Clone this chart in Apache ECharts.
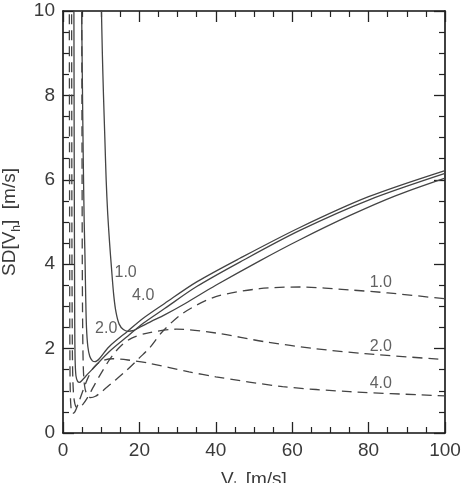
<!DOCTYPE html>
<html lang="en">
<head>
    <meta charset="UTF-8">
    <title>SD of Vh</title>
    <style>
        * {
            margin: 0;
            padding: 0;
        }

        html, body {
            width: 100%;
            height: 100%;
            background: #fff;
        }

        #chart {
            width: 461px;
            height: 483px;
        }
    </style>
    <script src="https://cdn.jsdelivr.net/npm/echarts@6/dist/echarts.min.js"></script>
</head>
<body>
<div id="chart"></div>
<script>
    // solid curves, [Vh, SD]
    const solid10 = [[10.0, 10.3], [10.3, 9], [10.6, 8], [10.95, 7], [11.3, 6], [11.7, 5.2], [12.2, 4.5],
        [12.7, 3.9], [13.3, 3.25], [13.9, 2.85], [14.7, 2.58], [15.8, 2.45], [17, 2.41], [18.5, 2.43], [20, 2.5],
        [23, 2.64], [26.6, 2.8], [32, 3.07], [40, 3.5], [51.5, 4.08], [62, 4.58], [75, 5.15], [87, 5.62], [100, 6.04]]
    const solid20 = [[4.85, 10.3], [5.05, 8.5], [5.3, 6.5], [5.55, 5], [5.75, 4.2], [5.95, 3.2], [6.15, 2.5],
        [6.5, 2.05], [7.0, 1.82], [7.7, 1.71], [8.4, 1.69], [9.5, 1.76], [12, 2.04], [17, 2.42], [21, 2.72],
        [26.6, 3.07], [35, 3.58], [46.3, 4.14], [62, 4.87], [80, 5.6], [100, 6.22]]
    const solid40 = [[2.85, 10.3], [2.9, 8], [2.95, 6], [3.0, 4.5], [3.05, 3], [3.1, 2.2], [3.2, 1.65], [3.4, 1.35],
        [3.8, 1.23], [4.3, 1.2], [5, 1.25], [6.5, 1.4], [8.3, 1.57], [12, 1.92], [17, 2.3], [21, 2.6],
        [26.6, 2.95], [35, 3.47], [46.3, 4.05], [62, 4.8], [80, 5.52], [100, 6.15]]

    // dashed curves, [Vh, SD]
    const dashed10 = [[4.9, 10.3], [4.95, 8], [5.0, 6], [5.05, 4], [5.15, 2.5], [5.3, 1.6], [5.6, 1.15], [6.2, 0.92],
        [7.2, 0.84], [8.5, 0.87], [10, 0.97], [13, 1.2], [16.6, 1.48], [20, 1.78], [22.7, 2.02], [26, 2.4],
        [31.4, 2.84], [40, 3.23], [51.5, 3.42], [62, 3.46], [75, 3.39], [85, 3.32], [100, 3.18]]
    const dashed20 = [[2.25, 10.3], [2.3, 7], [2.35, 4], [2.45, 2], [2.6, 1.2], [2.9, 0.8], [3.4, 0.62], [4.2, 0.6],
        [5.2, 0.68], [6.5, 0.85], [8, 1.1], [10, 1.42], [12.5, 1.78], [15, 2.05], [18, 2.25], [22.7, 2.38],
        [29.7, 2.46], [40, 2.37], [53, 2.16], [66, 2.0], [79, 1.88], [100, 1.74]]
    const dashed40 = [[1.65, 10.3], [1.7, 7], [1.75, 4], [1.8, 2], [1.9, 1.0], [2.1, 0.6], [2.5, 0.46], [3.1, 0.5],
        [4, 0.7], [5, 0.95], [6.5, 1.3], [8, 1.55], [10, 1.7], [13, 1.76], [17, 1.73], [22.7, 1.65], [33, 1.45],
        [40, 1.33], [57.5, 1.1], [75, 0.98], [100, 0.88]]

    // curve annotations
    const labelText = ['1.0', '4.0', '2.0', '1.0', '2.0', '4.0']
    const labelAt = [[16.4, 3.8], [21, 3.25], [11.3, 2.48], [83.2, 3.57], [83.2, 2.05], [83.2, 1.16]]

    const xTicks = [0, 20, 40, 60, 80, 100]
    const yTicks = [0, 2, 4, 6, 8, 10]

    const font = 'Liberation Sans'
    const ink = '#3a3a3a'

    function axisBase(show) {
        return {
            axisLine: {show: true, onZero: false, lineStyle: {color: '#111', width: 1.6}},
            axisTick: {show: true, inside: true, length: 11, lineStyle: {color: '#222', width: 1.3}},
            minorTick: {show: true, splitNumber: 4, length: 6, lineStyle: {color: '#222', width: 1.2}},
            splitLine: {show: false},
            axisLabel: {show: show, color: ink, fontFamily: font, fontSize: 19}
        }
    }

    function curve(data, dashed) {
        return {
            type: 'line',
            data: data,
            smooth: 0.3,
            symbol: 'none',
            lineStyle: {color: '#444', width: 1.3, type: dashed ? [10, 6] : 'solid'},
            silent: true
        }
    }

    let chart = echarts.init(document.getElementById('chart'))
    let option = {
        animation: false,
        grid: {left: 63, right: 16, top: 11, bottom: 50, outerBoundsMode: 'none', containLabel: false},
        xAxis: [
            Object.assign(axisBase(true), {
                type: 'value', min: xTicks[0], max: xTicks[xTicks.length - 1], interval: 20,
                name: '{n|V}{s|h}{n| [m/s]}', nameLocation: 'middle', nameGap: 37,
                nameTextStyle: {
                    rich: {
                        n: {fontFamily: font, fontSize: 19, color: ink},
                        s: {fontFamily: font, fontSize: 12, color: ink, verticalAlign: 'bottom', padding: [0, 0, -4, 0]}
                    }
                }
            }),
            Object.assign(axisBase(false), {
                type: 'value', position: 'top', min: xTicks[0], max: xTicks[xTicks.length - 1], interval: 20
            })
        ],
        yAxis: [
            Object.assign(axisBase(true), {
                type: 'value', min: yTicks[0], max: yTicks[yTicks.length - 1], interval: 2,
                name: '{n|SD[V}{s|h}{n|]  [m/s]}', nameLocation: 'middle', nameGap: 42, nameRotate: 90,
                nameTextStyle: {
                    rich: {
                        n: {fontFamily: font, fontSize: 19, color: ink},
                        s: {fontFamily: font, fontSize: 12, color: ink, verticalAlign: 'bottom', padding: [0, 0, -4, 0]}
                    }
                }
            }),
            Object.assign(axisBase(false), {
                type: 'value', position: 'right', min: yTicks[0], max: yTicks[yTicks.length - 1], interval: 2
            })
        ],
        series: [
            curve(solid10, false),
            curve(solid20, false),
            curve(solid40, false),
            curve(dashed10, true),
            curve(dashed20, true),
            curve(dashed40, true),
            {
                type: 'scatter',
                symbolSize: 0,
                silent: true,
                data: labelAt.map((p, i) => ({value: p, name: labelText[i]})),
                label: {
                    show: true, position: 'inside', formatter: '{b}',
                    fontFamily: font, fontSize: 16, color: ink
                }
            }
        ]
    }
    chart.setOption(option, true)
</script>
</body>
</html>
